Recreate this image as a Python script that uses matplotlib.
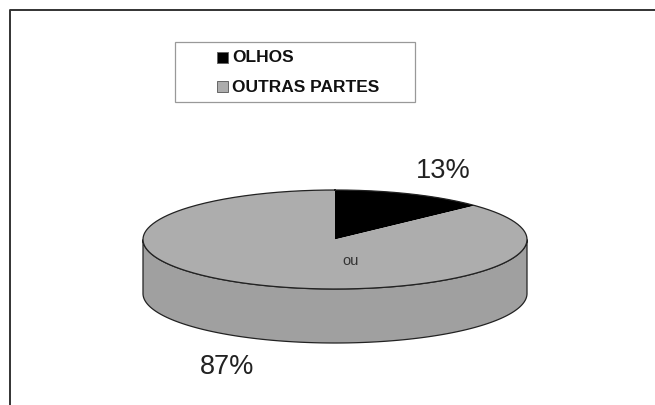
import numpy as np
import matplotlib
matplotlib.use('Agg')
import matplotlib.pyplot as plt
from matplotlib.patches import Polygon, Rectangle

categories = ['OLHOS', 'OUTRAS PARTES']
values = [13, 87]
labels = ['13%', '87%']
colors = ['#000000', '#adadad']

plt.rcParams['font.family'] = ['Liberation Sans', 'DejaVu Sans']

fig = plt.figure(figsize=(6.55, 4.06), dpi=100)
ax = fig.add_axes([0, 0, 1, 1])
ax.set_xlim(0, 655)
ax.set_ylim(405, -1)
ax.axis('off')

# pie geometry in pixels
cx, cy = 335, 239.5
rx, ry = 192, 49.5
depth = 54

def ell(a):
    # a = clockwise from the top, degrees
    a = np.radians(a)
    return cx + rx*np.sin(a), cy - ry*np.cos(a)

# side wall
t = np.linspace(90, 270, 200)
xs, ys = ell(t)
side = list(zip(xs, ys+depth)) + list(zip(xs[::-1], ys[::-1]))
ax.add_patch(Polygon(side, closed=True, fc='#a0a0a0', ec='#222222', lw=0.9, zorder=1))

# top slices
start = 0
for v, c in zip(values, colors):
    sweep = v/sum(values)*360
    t = np.linspace(start, start+sweep, 300)
    xs, ys = ell(t)
    pts = [(cx, cy)] + list(zip(xs, ys))
    ax.add_patch(Polygon(pts, closed=True, fc=c, ec='none', zorder=2))
    start += sweep

t = np.linspace(0, 360, 400)
xs, ys = ell(t)
ax.plot(xs, ys, color='#222222', lw=0.9, zorder=3)

ax.text(443, 170.5, labels[0], fontsize=19.5, color='#222222', ha='center', va='center', zorder=4)
ax.text(227, 366.5, labels[1], fontsize=19.5, color='#222222', ha='center', va='center', zorder=4)
ax.text(350.5, 260, 'ou', fontsize=10.5, color='#333333', ha='center', va='center', zorder=4)

# outer frame
ax.plot([10, 10, 655], [406, 10, 10], color='#333333', lw=1.4, zorder=5)

# legend box
ax.add_patch(Rectangle((175, 42), 240, 60, fc='white', ec='#999999', lw=0.9, zorder=4))
legend_y = [57.5, 86.5]
for name, c, y in zip(categories, colors, legend_y):
    ax.add_patch(Rectangle((217, y-5.5), 11, 11, fc=c, ec='#666666', lw=0.7, zorder=5))
    ax.text(232, y-0.5, name, fontsize=12.5, fontweight='bold', color='#111111', ha='left', va='center', zorder=5)

fig.savefig('out.png', dpi=100)
